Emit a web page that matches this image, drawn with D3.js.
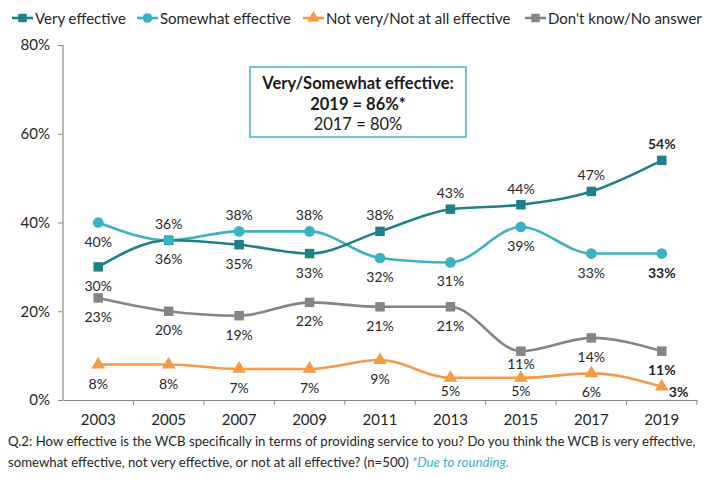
<!DOCTYPE html>
<html><head><meta charset="utf-8">
<script src="https://cdn.jsdelivr.net/npm/d3@7"></script>
<style>body{margin:0;background:#fff;} text{font-family:Lato,"Open Sans",sans-serif;}</style>
</head><body><svg id="c" width="721" height="483"></svg>
<script>
const years = ["2003","2005","2007","2009","2011","2013","2015","2017","2019"];
const veryEffective = [30,36,35,33,38,43,44,47,54];
const somewhatEffective = [40,36,38,38,32,31,39,33,33];
const notEffective = [8,8,7,7,9,5,5,6,3];
const dontKnow = [23,20,19,22,21,21,11,14,11];
const yTicks = [0,20,40,60,80];
const seriesNames = ["Very effective","Somewhat effective","Not very/Not at all effective","Don't know/No answer"];
// label placement per point: "a" above, "b" below, "n" near below, "r" right
const veryPos = ["b","b","b","b","a","a","a","a","a"];
const somewhatPos = ["b","a","a","a","b","b","b","b","b"];
const notPos = ["b","b","b","b","b","n","n","b","r"];
const dkPos = ["b","b","b","b","b","b","n","b","b"];

const svg = d3.select("#c");
const x = d3.scaleBand().domain(years).range([63,697]);
const y = d3.scaleLinear().domain([0,80]).range([400,45]);
const cx = d => x(d) + x.bandwidth()/2;

const series = [
  {name:seriesNames[0], vals:veryEffective, pos:veryPos, color:"#1E8089", shape:d3.symbolSquare, size:90},
  {name:seriesNames[1], vals:somewhatEffective, pos:somewhatPos, color:"#3AB3C1", shape:d3.symbolCircle, size:90},
  {name:seriesNames[2], vals:notEffective, pos:notPos, color:"#F79A48", shape:d3.symbolTriangle, size:80},
  {name:seriesNames[3], vals:dontKnow, pos:dkPos, color:"#858585", shape:d3.symbolSquare, size:90}
];

// axes
const yAxis = d3.axisLeft(y).tickValues(yTicks).tickFormat(d=>d+"%").tickSize(5).tickPadding(8);
const gy = svg.append("g").attr("transform","translate(63,0)").call(yAxis);
const xAxis = d3.axisBottom(x).tickSize(0).tickPadding(14);
const gx = svg.append("g").attr("transform","translate(0,400)").call(xAxis);
[gx,gy].forEach(g=>{
  g.select(".domain").attr("stroke","#8a8a8a").attr("stroke-width",1.2);
  g.selectAll(".tick line").attr("stroke","#8a8a8a");
  g.selectAll("text").attr("fill","#262626").style("font-size","15px").style("font-family","Lato,sans-serif");
});
gy.select(".domain").attr("d","M0,45V400");
const bounds = years.map(d=>x(d)).concat([x.range()[1]]).slice(1);
gx.selectAll(".bt").data(bounds).enter().append("line")
  .attr("x1",d=>d).attr("x2",d=>d).attr("y1",0).attr("y2",5).attr("stroke","#8a8a8a");

// lines
const line = d3.line().x((d,i)=>cx(years[i])).y(d=>y(d)).curve(d3.curveMonotoneX);
series.slice().reverse().forEach(s=>{
  svg.append("path").attr("d",line(s.vals)).attr("fill","none").attr("stroke",s.color).attr("stroke-width",2.6);
});
series.forEach(s=>{
  svg.append("g").selectAll("path").data(s.vals).enter().append("path")
    .attr("d",d3.symbol().type(s.shape).size(s.size))
    .attr("transform",(d,i)=>`translate(${cx(years[i])},${y(d)})`)
    .attr("fill",s.color);
});
// labels
series.forEach(s=>{
  s.vals.forEach((v,i)=>{
    const p = s.pos[i];
    const last = i===years.length-1;
    let tx = cx(years[i]), ty = y(v), anchor="middle";
    if(p==="a") ty -= 11;
    else if(p==="b") ty += 24;
    else if(p==="n") ty += 18;
    else { tx += 7; ty += 10; anchor="start"; }
    svg.append("text").attr("x",tx).attr("y",ty).attr("text-anchor",anchor)
      .attr("fill","#262626").style("font-size","14px")
      .style("font-weight", last ? "bold":"normal")
      .text(v+"%");
  });
});

// legend
const legX = [12,137,303,525];
series.forEach((s,i)=>{
  const g = svg.append("g").attr("transform",`translate(${legX[i]},18)`);
  g.append("line").attr("x1",0).attr("x2",21).attr("stroke",s.color).attr("stroke-width",2.6);
  g.append("path").attr("d",d3.symbol().type(s.shape).size(s.size*0.8)).attr("transform","translate(10.5,0)").attr("fill",s.color);
  g.append("text").attr("x",23).attr("y",5.5).attr("fill","#262626").style("font-size","15px").text(s.name);
});

// annotation box
svg.append("rect").attr("x",250).attr("y",67).attr("width",216).attr("height",70)
  .attr("fill","#fff").attr("stroke","#4BAFBF").attr("stroke-width",1.5);
const box = [["Very/Somewhat effective:","bold",89],["2019 = 86%*","bold",110],["2017 = 80%","normal",130]];
box.forEach(b=>svg.append("text").attr("x",358).attr("y",b[2]).attr("text-anchor","middle")
  .attr("fill","#1a1a1a").style("font-size","16.5px").style("font-weight",b[1]).text(b[0]));

// footnote
svg.append("text").attr("x",8).attr("y",446).attr("fill","#262626").style("font-size","13.2px")
  .text("Q.2: How effective is the WCB specifically in terms of providing service to you? Do you think the WCB is very effective,");
const f2 = svg.append("text").attr("x",8).attr("y",467).attr("fill","#262626").style("font-size","13.2px");
f2.append("tspan").text("somewhat effective, not very effective, or not at all effective? (n=500) ");
f2.append("tspan").attr("fill","#3AB3C1").style("font-style","italic").text("*Due to rounding.");
</script></body></html>
